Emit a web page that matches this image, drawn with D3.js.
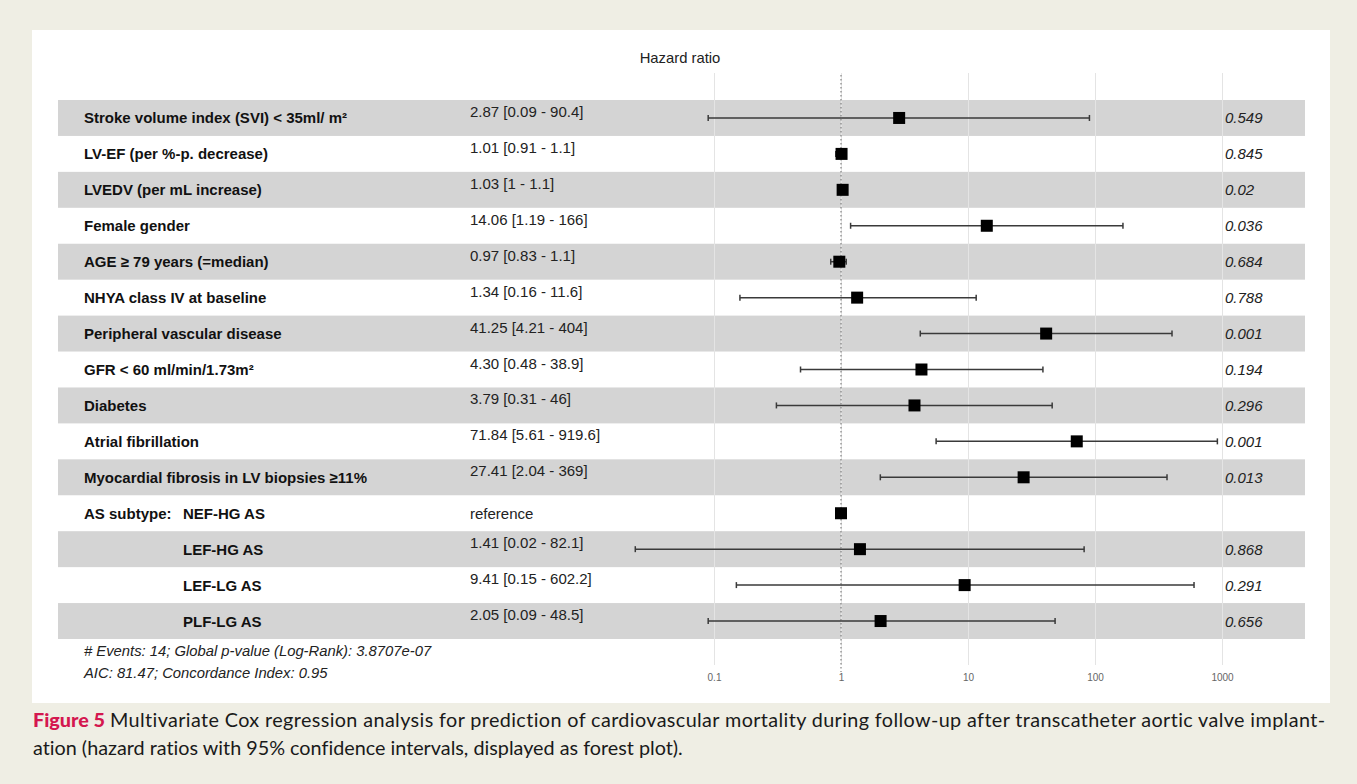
<!DOCTYPE html>
<html><head><meta charset="utf-8">
<script src="https://cdn.jsdelivr.net/npm/d3@7"></script>
<style>
html,body{margin:0;padding:0;background:#efeee4;}
svg{display:block;}
text{font-variant-ligatures:none;font-feature-settings:"liga" 0;}
</style></head>
<body>
<svg id="chart" width="1357" height="784"></svg>
<script>
const labels = [
  "Stroke volume index (SVI) < 35ml/ m²",
  "LV-EF (per %-p. decrease)",
  "LVEDV (per mL increase)",
  "Female gender",
  "AGE ≥ 79 years (=median)",
  "NHYA class IV at baseline",
  "Peripheral vascular disease",
  "GFR < 60 ml/min/1.73m²",
  "Diabetes",
  "Atrial fibrillation",
  "Myocardial fibrosis in LV biopsies ≥11%",
  "NEF-HG AS",
  "LEF-HG AS",
  "LEF-LG AS",
  "PLF-LG AS"
];
const groupLabel = ["","","","","","","","","","","","AS subtype:","","",""];
const ciText = [
  "2.87 [0.09 - 90.4]","1.01 [0.91 - 1.1]","1.03 [1 - 1.1]","14.06 [1.19 - 166]",
  "0.97 [0.83 - 1.1]","1.34 [0.16 - 11.6]","41.25 [4.21 - 404]","4.30 [0.48 - 38.9]",
  "3.79 [0.31 - 46]","71.84 [5.61 - 919.6]","27.41 [2.04 - 369]","reference",
  "1.41 [0.02 - 82.1]","9.41 [0.15 - 602.2]","2.05 [0.09 - 48.5]"
];
const hr = [2.87,1.01,1.03,14.06,0.97,1.34,41.25,4.30,3.79,71.84,27.41,1,1.41,9.41,2.05];
const lo = [0.09,0.91,1,1.19,0.83,0.16,4.21,0.48,0.31,5.61,2.04,null,0.024,0.15,0.09];
const hi = [90.4,1.1,1.1,166,1.1,11.6,404,38.9,46,919.6,369,null,82.1,602.2,48.5];
const pvals = ["0.549","0.845","0.02","0.036","0.684","0.788","0.001","0.194","0.296","0.001","0.013","","0.868","0.291","0.656"];
const tickVals = [0.1,1,10,100,1000];
const tickLabels = ["0.1","1","10","100","1000"];
const footer = ["# Events: 14; Global p-value (Log-Rank): 3.8707e-07","AIC: 81.47; Concordance Index: 0.95"];
const captionBold = "Figure 5";
const captionLines = ["Multivariate Cox regression analysis for prediction of cardiovascular mortality during follow-up after transcatheter aortic valve implant-",
  "ation (hazard ratios with 95% confidence intervals, displayed as forest plot)."];

const svg = d3.select("#chart");
const font = "'Liberation Sans', Arial, Helvetica, sans-serif";

// white panel
svg.append("rect").attr("x",32).attr("y",30).attr("width",1298).attr("height",673).attr("fill","#ffffff");

const idx = d3.range(labels.length);
const y = d3.scaleBand().domain(idx).range([100, 639]).padding(0);
const x = d3.scaleLog().domain([0.1, 1000]).range([714, 1222]);

// bands
svg.append("g").selectAll("rect").data(idx.filter(i => i % 2 === 0)).join("rect")
  .attr("x",58).attr("width",1247).attr("y",i=>y(i)).attr("height",y.bandwidth())
  .attr("fill","#d4d4d4");

// gridlines
const grid = svg.append("g").attr("transform","translate(0,665)")
  .call(d3.axisBottom(x).tickValues(tickVals).tickSize(-592).tickFormat(""));
grid.select(".domain").remove();
grid.selectAll("line").attr("stroke","#e4e4e4").attr("stroke-width",1);

// ref dotted line
svg.append("line").attr("x1",x(1)).attr("x2",x(1)).attr("y1",75).attr("y2",672)
  .attr("stroke","#777").attr("stroke-width",1.1).attr("stroke-dasharray","1.5,2.5");

// axis labels
const ax = svg.append("g").attr("transform","translate(0,671)")
  .call(d3.axisBottom(x).tickValues(tickVals).tickSize(0).tickFormat((d,i)=>tickLabels[i]));
ax.select(".domain").remove();
ax.selectAll("text").attr("font-family",font).attr("font-size",10).attr("fill","#666");

// title
svg.append("text").attr("x",680).attr("y",63).attr("text-anchor","middle")
  .attr("font-family",font).attr("font-size",14.8).attr("fill","#222").text("Hazard ratio");

const cy = i => y(i) + y.bandwidth()/2;
const fs = 15;

// labels
svg.append("g").selectAll("text").data(idx).join("text")
  .attr("x",i => (i >= 11 ? 183 : 84)).attr("y",i => cy(i)+5.5)
  .attr("font-family",font).attr("font-weight","bold").attr("font-size",fs).attr("fill","#111")
  .text(i => labels[i]);
svg.append("g").selectAll("text").data(idx.filter(i=>groupLabel[i])).join("text")
  .attr("x",84).attr("y",i => cy(i)+5.5)
  .attr("font-family",font).attr("font-weight","bold").attr("font-size",fs).attr("fill","#111")
  .text(i => groupLabel[i]);

// CI texts
svg.append("g").selectAll("text").data(idx).join("text")
  .attr("x",470).attr("y",i => hi[i]==null ? cy(i)+5.5 : cy(i)-1)
  .attr("font-family",font).attr("font-size",fs).attr("fill","#222")
  .text(i => ciText[i]);

// p-values
svg.append("g").selectAll("text").data(idx).join("text")
  .attr("x",1225).attr("y",i => cy(i)+5.5)
  .attr("font-family",font).attr("font-style","italic").attr("font-size",fs).attr("fill","#222")
  .text(i => pvals[i]);

// CI lines
const ci = svg.append("g").selectAll("g").data(idx.filter(i=>lo[i]!=null)).join("g");
ci.append("line").attr("x1",i=>x(lo[i])).attr("x2",i=>x(hi[i])).attr("y1",cy).attr("y2",cy)
  .attr("stroke","#3a3a3a").attr("stroke-width",1.5);
ci.append("line").attr("x1",i=>x(lo[i])).attr("x2",i=>x(lo[i])).attr("y1",i=>cy(i)-3).attr("y2",i=>cy(i)+3)
  .attr("stroke","#3a3a3a").attr("stroke-width",1.5);
ci.append("line").attr("x1",i=>x(hi[i])).attr("x2",i=>x(hi[i])).attr("y1",i=>cy(i)-3).attr("y2",i=>cy(i)+3)
  .attr("stroke","#3a3a3a").attr("stroke-width",1.5);

// points
const s = 12;
svg.append("g").selectAll("rect").data(idx).join("rect")
  .attr("x",i=>x(hr[i])-s/2).attr("y",i=>cy(i)-s/2).attr("width",s).attr("height",s)
  .attr("fill","#000");

// footer
svg.append("g").selectAll("text").data(footer).join("text")
  .attr("x",84).attr("y",(d,i)=>656+i*22)
  .attr("font-family",font).attr("font-style","italic").attr("font-size",14.8).attr("fill","#222")
  .text(d=>d);

// caption
const capFont = "Lato, 'Open Sans', sans-serif";
const c1 = svg.append("text").attr("x",33).attr("y",727).attr("font-family",capFont).attr("font-size",19.8).attr("fill","#1a1a1a");
c1.append("tspan").attr("font-weight","900").attr("fill","#d4174f").text(captionBold);
c1.append("tspan").attr("x",110).attr("textLength",1215).attr("lengthAdjust","spacing").text(captionLines[0]);
svg.append("text").attr("x",33).attr("y",755).attr("font-family",capFont).attr("font-size",19.8).attr("fill","#1a1a1a")
  .text(captionLines[1]);
</script>
</body></html>
